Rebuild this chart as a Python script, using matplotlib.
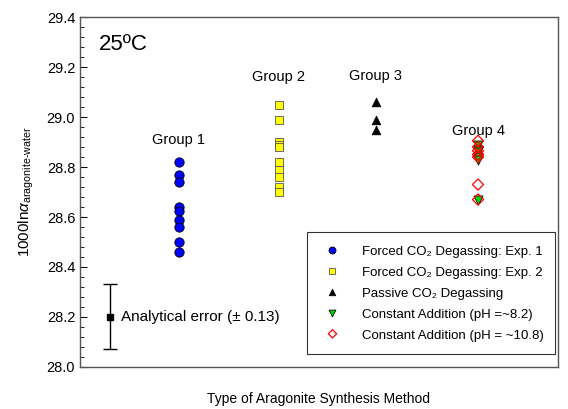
import matplotlib
matplotlib.use('Agg')
from matplotlib import pyplot as plt
from matplotlib.ticker import MultipleLocator
import numpy as np

plt.rcParams['font.family'] = ['Liberation Sans', 'DejaVu Sans']
plt.rcParams['mathtext.fontset'] = 'custom'
plt.rcParams['mathtext.rm'] = 'Liberation Sans'
plt.rcParams['mathtext.it'] = 'Liberation Sans:italic'
plt.rcParams['mathtext.bf'] = 'Liberation Sans:bold'

# x positions of the groups (arbitrary axis units 0-100)
group_x = [20.7, 41.6, 61.9, 83.3]
group_names = ['Group 1', 'Group 2', 'Group 3', 'Group 4']
group_label_y = [28.91, 29.16, 29.165, 28.945]

forced_exp1 = [28.82, 28.77, 28.74, 28.64, 28.625, 28.59, 28.56, 28.50, 28.46]
forced_exp2 = [29.05, 28.99, 28.90, 28.89, 28.88, 28.82, 28.79, 28.76, 28.72, 28.70]
passive = [29.06, 28.99, 28.95]
const_82 = [28.89, 28.87, 28.86, 28.84, 28.83, 28.67]
const_108 = [28.905, 28.88, 28.865, 28.85, 28.84, 28.73, 28.67]

series_labels = ['Forced CO\u2082 Degassing: Exp. 1',
                 'Forced CO\u2082 Degassing: Exp. 2',
                 'Passive CO\u2082 Degassing',
                 'Constant Addition (pH =~8.2)',
                 'Constant Addition (pH = ~10.8)']

err_x = 6.3
err_y = 28.2
err_val = 0.13


def main():
    fig = plt.figure(figsize=(5.68, 4.09), dpi=100)
    ax = fig.add_axes([0.141, 0.103, 0.841, 0.855])

    ax.scatter([group_x[0]] * len(forced_exp1), forced_exp1, s=45, marker='o',
               color='#0000ff', edgecolor='black', linewidth=0.6, zorder=3,
               label=series_labels[0])
    ax.scatter([group_x[1]] * len(forced_exp2), forced_exp2, s=38, marker='s',
               color='#ffff00', edgecolor='#555555', linewidth=0.6, zorder=3,
               label=series_labels[1])
    ax.scatter([group_x[2]] * len(passive), passive, s=38, marker='^',
               color='black', edgecolor='black', linewidth=0.6, zorder=3,
               label=series_labels[2])
    ax.scatter([group_x[3]] * len(const_82), const_82, s=42, marker='v',
               color='#00dd00', edgecolor='black', linewidth=0.6, zorder=3,
               label=series_labels[3])
    ax.scatter([group_x[3]] * len(const_108), const_108, s=32, marker='D',
               facecolor='none', edgecolor='red', linewidth=0.9, zorder=4,
               label=series_labels[4])

    for x, name, y in zip(group_x, group_names, group_label_y):
        ax.text(x, y, name, ha='center', va='center', fontsize=10.5)

    ax.errorbar([err_x], [err_y], yerr=[err_val], fmt='s', color='black',
                markersize=5, capsize=5, elinewidth=1, capthick=1)
    ax.text(err_x + 2.3, err_y, 'Analytical error (\u00b1 0.13)',
            va='center', fontsize=11)

    ax.text(3.9, 29.29, '25\u00baC', fontsize=16, va='center')

    ax.set_xlim(0, 100)
    ax.set_ylim(28.0, 29.4)
    ax.set_xticks([])
    ax.yaxis.set_major_locator(MultipleLocator(0.2))
    ax.yaxis.set_minor_locator(MultipleLocator(0.04))
    ax.yaxis.set_major_formatter(plt.FormatStrFormatter('%.1f'))
    ax.tick_params(axis='y', which='major', direction='in', length=5,
                   labelsize=10.5)
    ax.tick_params(axis='y', which='minor', direction='in', length=3)
    for sp in ax.spines.values():
        sp.set_color('#555555')
        sp.set_linewidth(1)

    ax.set_ylabel(r'1000ln$\alpha_{\text{aragonite-water}}$', fontsize=11,
                  labelpad=8)
    ax.set_xlabel('Type of Aragonite Synthesis Method', fontsize=10,
                  labelpad=18)

    leg = ax.legend(loc='lower right', fontsize=9.5, frameon=True,
                    fancybox=False, edgecolor='black', borderpad=0.9,
                    handletextpad=1.2, labelspacing=0.45, handleheight=1.38,
                    markerscale=0.75, borderaxespad=0.2,
                    bbox_to_anchor=(1.0, 0.028))
    leg.get_frame().set_linewidth(0.8)

    fig.savefig('out.png', dpi=100)


if __name__ == '__main__':
    main()
